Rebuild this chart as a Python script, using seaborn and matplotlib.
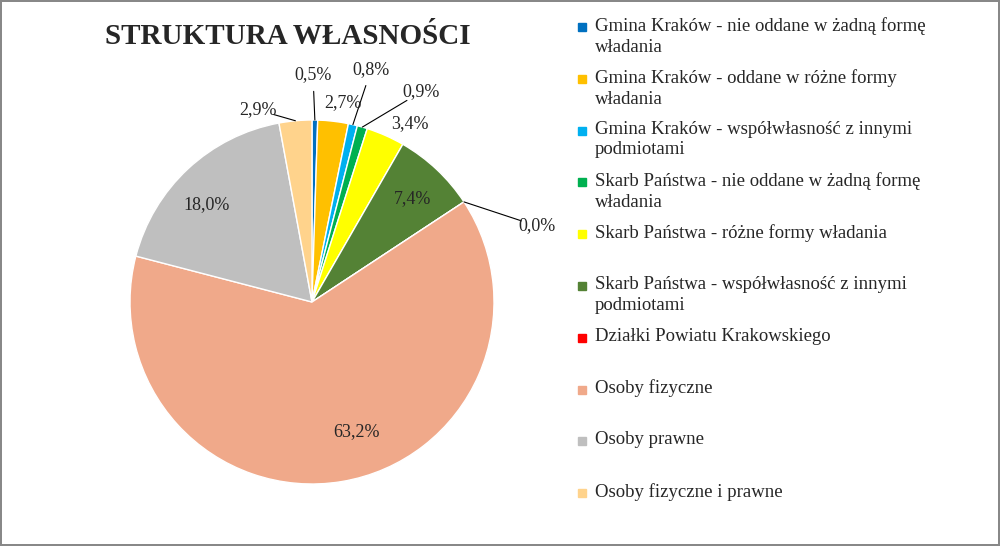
import matplotlib
matplotlib.use("Agg")
import matplotlib.pyplot as plt
import seaborn as sns
import numpy as np

categories = [
    "Gmina Kraków - nie oddane w żadną formę\nwładania",
    "Gmina Kraków - oddane w różne formy\nwładania",
    "Gmina Kraków - współwłasność z innymi\npodmiotami",
    "Skarb Państwa - nie oddane w żadną formę\nwładania",
    "Skarb Państwa - różne formy władania",
    "Skarb Państwa - współwłasność z innymi\npodmiotami",
    "Działki Powiatu Krakowskiego",
    "Osoby fizyczne",
    "Osoby prawne",
    "Osoby fizyczne i prawne",
]
values = [0.5, 2.7, 0.8, 0.9, 3.4, 7.4, 0.0, 63.2, 18.0, 2.9]
colors = ["#0070C0", "#FFC000", "#00B0F0", "#00B050", "#FFFF00",
          "#548235", "#FF0000", "#F0A98A", "#BFBFBF", "#FFD38C"]
label_text = ["0,5%", "2,7%", "0,8%", "0,9%", "3,4%", "7,4%", "0,0%", "63,2%", "18,0%", "2,9%"]
# label positions in pixels of the reference (centre of text)
label_px = [(313, 75), (343, 103), (371, 70), (421, 92), (410, 124),
            (413, 199), (537, 226), (357, 432), (207, 205), (258, 110)]
leader = [True, False, True, True, False, False, True, False, False, True]

sns.set_style("white")
plt.rcParams["font.family"] = ["Liberation Serif", "DejaVu Serif"]

fig = plt.figure(figsize=(10, 5.46), dpi=100)
fig.patch.set_edgecolor("#888888")
fig.patch.set_linewidth(1.5)

cx, cy, r = 312, 302, 182
ax = fig.add_axes([(cx - r) / 1000, (546 - cy - r) / 546, 2 * r / 1000, 2 * r / 546])
wedges, _ = ax.pie(values, colors=colors, startangle=90, counterclock=False,
                   wedgeprops=dict(edgecolor="white", linewidth=1))
ax.set_xlim(-1, 1)
ax.set_ylim(-1, 1)
ax.set_aspect("auto")
ax.axis("off")

total = sum(values)
cum = 0
for i, v in enumerate(values):
    mid = 90 - (cum + v / 2) / total * 360
    cum += v
    lx = (label_px[i][0] - cx) / r
    ly = (cy - label_px[i][1]) / r
    ax.text(lx, ly, label_text[i], ha="center", va="center", fontsize=13,
            clip_on=False)
    if leader[i]:
        ex, ey = np.cos(np.radians(mid)), np.sin(np.radians(mid))
        d = np.hypot(lx - ex, ly - ey)
        tx = lx - (lx - ex) / d * 0.09
        ty = ly - (ly - ey) / d * 0.09
        ax.plot([ex, tx], [ey, ty], color="black", lw=0.8, clip_on=False)

fig.text(288 / 1000, 1 - 37 / 546, "STRUKTURA WŁASNOŚCI", ha="center", va="center",
         fontsize=21, fontweight="bold")

for i, lab in enumerate(categories):
    ytop = 27 + i * 51.8
    fig.patches.append(plt.Rectangle((578 / 1000, 1 - (ytop + 4) / 546), 8 / 1000, 8 / 546,
                                     transform=fig.transFigure, color=colors[i]))
    fig.text(595 / 1000, 1 - (ytop - 10) / 546, lab, ha="left", va="top",
             fontsize=13.5, linespacing=1.3)

fig.savefig("out.png", dpi=100, edgecolor=fig.get_edgecolor())
